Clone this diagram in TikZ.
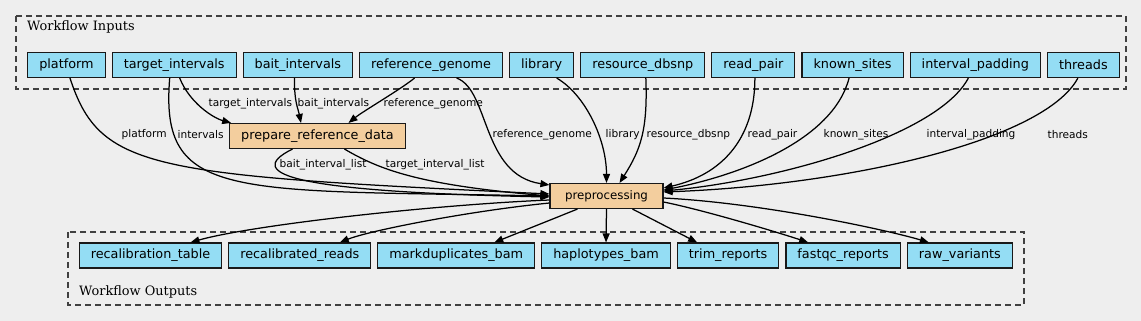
\documentclass[tikz,border=0pt]{standalone}
\usepackage{fontspec}
\setmainfont{DejaVu Sans}
\newfontfamily\clusterfont{DejaVu Serif}
\usetikzlibrary{positioning,arrows.meta}
\definecolor{inblue}{HTML}{94DDF4}
\definecolor{taskorange}{HTML}{F3CE9E}
\definecolor{bggray}{HTML}{EEEEEE}

\begin{document}
\begin{tikzpicture}[
    x=1pt, y=1pt,
    node distance=6pt,
    io/.style={
        rectangle,draw=black!90,fill=inblue,line width=1.1pt,
        minimum height=25pt,inner xsep=11.5pt,inner ysep=0pt,
        font=\fontsize{12.8}{14}\selectfont
    },
    task/.style={io,fill=taskorange},
    edge/.style={-{Triangle[length=9pt,width=7pt]},line width=1.25pt},
    lbl/.style={font=\fontsize{10.6}{12}\selectfont,inner sep=0pt,anchor=west},
    cluster/.style={draw=black!75,dash pattern=on 6pt off 4pt,line width=1.3pt},
    clabel/.style={font=\clusterfont\fontsize{12.9}{14}\selectfont,inner sep=0pt,anchor=west}
]
\fill[bggray] (0,0) rectangle (1141,-321);
\useasboundingbox (0,0) rectangle (1141,-321);

\draw[cluster] (16,-16) rectangle (1126,-89);
\node[clabel] (inputslabel) at (27,-27) {Workflow Inputs};
\draw[cluster] (68,-232) rectangle (1024,-305);
\node[clabel] (outputslabel) at (79,-292) {Workflow Outputs};

\node[io] (platform) at (66.5,-65) {platform};
\node[io, right=of platform] (targetint) {target\_intervals};
\node[io, right=of targetint] (baitint) {bait\_intervals};
\node[io, right=of baitint] (refgenome) {reference\_genome};
\node[io, right=of refgenome] (library) {library};
\node[io, right=of library] (dbsnp) {resource\_dbsnp};
\node[io, right=of dbsnp] (readpair) {read\_pair};
\node[io, right=of readpair] (knownsites) {known\_sites};
\node[io, right=of knownsites] (padding) {interval\_padding};
\node[io, right=of padding] (threads) {threads};

\node[task] (prepref) at (317.5,-136) {prepare\_reference\_data};
\node[task, font=\fontsize{11.8}{14}\selectfont, minimum width=113pt] (preproc) at (606.5,-196) {preprocessing};

\node[io] (recaltable) at (150.5,-255.5) {recalibration\_table};
\node[io, right=of recaltable] (recalreads) {recalibrated\_reads};
\node[io, right=of recalreads] (markdup) {markduplicates\_bam};
\node[io, right=of markdup] (haplobam) {haplotypes\_bam};
\node[io, right=of haplobam] (trimrep) {trim\_reports};
\node[io, right=of trimrep] (fastqcrep) {fastqc\_reports};
\node[io, right=of fastqcrep] (rawvar) {raw\_variants};

\draw[edge] ([xshift=3.5pt]platform.south) .. controls +(30,-92) and +(-400,19) .. ([yshift=2pt]preproc.west)
    node[lbl] at (121,-135) {platform};
\draw[edge] ([xshift=-4.5pt]targetint.south) .. controls +(-10,-122) and +(-320,6) .. (preproc.west)
    node[lbl] at (177,-135) {intervals};
\draw[edge] ([xshift=5.5pt]targetint.south) .. controls +(10,-25) and +(-18,5) .. ([xshift=2pt]prepref.north west)
    node[lbl] at (208,-104) {target\_intervals};
\draw[edge] ([xshift=-3.5pt]baitint.south) .. controls +(0,-25) and +(-3,15) .. ([xshift=-16.5pt]prepref.north)
    node[lbl] at (297,-104) {bait\_intervals};
\draw[edge] ([xshift=-16.5pt]refgenome.south) .. controls +(-15,-12) and +(15,12) .. ([xshift=31pt]prepref.north)
    node[lbl] at (383,-104) {reference\_genome};
\draw[edge] ([xshift=25.5pt]refgenome.south) .. controls +(33,-12) and +(-68,10) .. ([yshift=-2pt]preproc.north west)
    node[lbl] at (492,-135) {reference\_genome};
\draw[edge] ([xshift=15pt]library.south) .. controls +(29,-17) and +(0,43) .. (preproc.north)
    node[lbl] at (605,-135) {library};
\draw[edge] ([xshift=3pt]dbsnp.south) .. controls +(2,-52) and +(21,33) .. ([xshift=13pt]preproc.north)
    node[lbl] at (646,-135) {resource\_dbsnp};
\draw[edge] ([xshift=1.5pt]readpair.south) .. controls +(0,-62) and +(57,13) .. ([yshift=8pt]preproc.east)
    node[lbl] at (747,-135) {read\_pair};
\draw[edge] ([xshift=-3.5pt]knownsites.south) .. controls +(-16,-62) and +(77,15) .. ([yshift=6pt]preproc.east)
    node[lbl] at (823,-135) {known\_sites};
\draw[edge] ([xshift=-7pt]padding.south) .. controls +(-30,-57) and +(117,11) .. ([yshift=5pt]preproc.east)
    node[lbl] at (926,-135) {interval\_padding};
\draw[edge] ([xshift=-5.5pt]threads.south) .. controls +(-33,-62) and +(187,7) .. ([yshift=4pt]preproc.east)
    node[lbl] at (1047,-135) {threads};
\draw[edge] ([xshift=-25pt]prepref.south) .. controls +(-52.5,-26) and +(-249,5) .. ([yshift=-1pt]preproc.west)
    node[lbl] at (279,-165) {bait\_interval\_list};
\draw[edge] ([xshift=27pt]prepref.south) .. controls +(35.5,-21) and +(-129,11) .. (preproc.west)
    node[lbl] at (385,-165) {target\_interval\_list};

\draw[edge] ([yshift=-4pt]preproc.west) .. controls +(-120,-5) and +(59.5,17) .. ([xshift=40pt]recaltable.north);
\draw[edge] ([yshift=-7pt]preproc.west) .. controls +(-80,-8) and +(30,12) .. ([xshift=40pt]recalreads.north);
\draw[edge] ([xshift=-29pt]preproc.south) -- ([xshift=38pt]markdup.north);
\draw[edge] (preproc.south) -- (haplobam.north);
\draw[edge] ([xshift=26pt]preproc.south) -- ([xshift=-31pt]trimrep.north);
\draw[edge] ([yshift=-6pt]preproc.east) .. controls +(40,-8) and +(-30,10) .. ([xshift=-35pt]fastqcrep.north);
\draw[edge] ([yshift=-2pt]preproc.east) .. controls +(100,-5) and +(-40,12) .. ([xshift=-31pt]rawvar.north);
\end{tikzpicture}
\end{document}
